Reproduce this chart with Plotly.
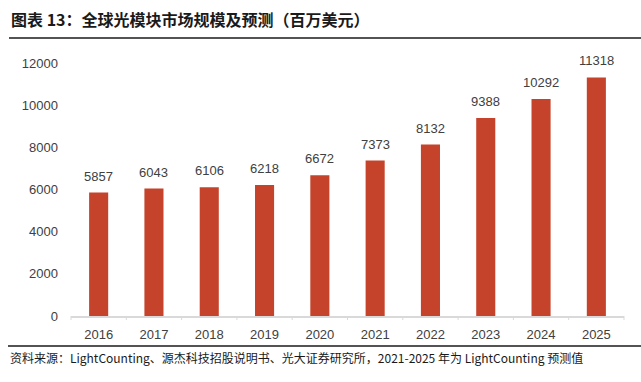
import plotly.graph_objects as go

years = ["2016", "2017", "2018", "2019", "2020", "2021", "2022", "2023", "2024", "2025"]
values = [5857, 6043, 6106, 6218, 6672, 7373, 8132, 9388, 10292, 11318]
y_ticks = [0, 2000, 4000, 6000, 8000, 10000, 12000]

W, H = 641, 382
L, R, T, B = 71, 17, 63, 66
PW, PH = W - L - R, H - T - B

def px_x(p):
    return (p - L) / PW

def px_y(p):
    return (H - B - p) / PH

bar_color = "#C5432A"
text_color = "#404040"
font_fam = "'Liberation Sans', Arial, sans-serif"
cjk_fam = "'Noto Sans CJK SC', sans-serif"

fig = go.Figure(go.Bar(
    x=years, y=values,
    marker=dict(color=bar_color, line=dict(width=0)),
    cliponaxis=False, width=0.345,
))

# value labels above bars (category index positions)
for i, v in enumerate(values):
    fig.add_annotation(x=i, y=v, text=str(v), showarrow=False,
                       xanchor="center", yanchor="bottom", yshift=7,
                       font=dict(size=13, color=text_color, family=font_fam))

fig.update_layout(
    width=W, height=H,
    margin=dict(l=L, r=R, t=T, b=B, pad=0),
    paper_bgcolor="white", plot_bgcolor="white",
    showlegend=False,
    font=dict(family=font_fam, color=text_color, size=13),
    xaxis=dict(type="category", range=[-0.5, len(years) - 0.5],
               showgrid=False, showline=True, linecolor="#d9d9d9",
               linewidth=1.5, ticks="", tickfont=dict(size=13, color=text_color, family=font_fam),
               ticklabelstandoff=6),
    yaxis=dict(range=[0, 12000], tickvals=y_ticks, ticktext=[str(v) for v in y_ticks],
               showgrid=False, zeroline=False,
               showline=False, ticks="", tickfont=dict(size=13, color=text_color, family=font_fam),
               ticklabelstandoff=12),
    bargap=0.655,
)

# tick marks between categories on the x axis
for i in range(len(years) + 1):
    xp = i / len(years)
    fig.add_shape(type="line", xref="paper", yref="paper", x0=xp, x1=xp,
                  y0=0, y1=px_y(H - B + 4), line=dict(color="#d9d9d9", width=1))

# title
fig.add_annotation(text="<b>图表 13：全球光模块市场规模及预测（百万美元）</b>",
                   xref="paper", yref="paper", x=px_x(9), y=px_y(19),
                   xanchor="left", yanchor="middle", showarrow=False,
                   font=dict(family=cjk_fam, size=16, color="#1a1a1a"))
fig.add_shape(type="line", xref="paper", yref="paper", x0=px_x(9), x1=px_x(641),
              y0=px_y(38), y1=px_y(38), line=dict(color="#1a1a1a", width=1.5))

# footer
fig.add_shape(type="line", xref="paper", yref="paper", x0=px_x(8), x1=px_x(641),
              y0=px_y(346), y1=px_y(346), line=dict(color="#1a1a1a", width=1.5))
fig.add_annotation(text="资料来源：LightCounting、源杰科技招股说明书、光大证券研究所，2021-2025 年为 LightCounting 预测值",
                   xref="paper", yref="paper", x=px_x(8), y=px_y(357),
                   xanchor="left", yanchor="middle", showarrow=False,
                   font=dict(family=cjk_fam, size=12, color="#1a1a1a"))

fig.write_html("out.html", config={"displayModeBar": False},
               post_script="document.body.style.margin='0';document.body.style.overflow='hidden';")
